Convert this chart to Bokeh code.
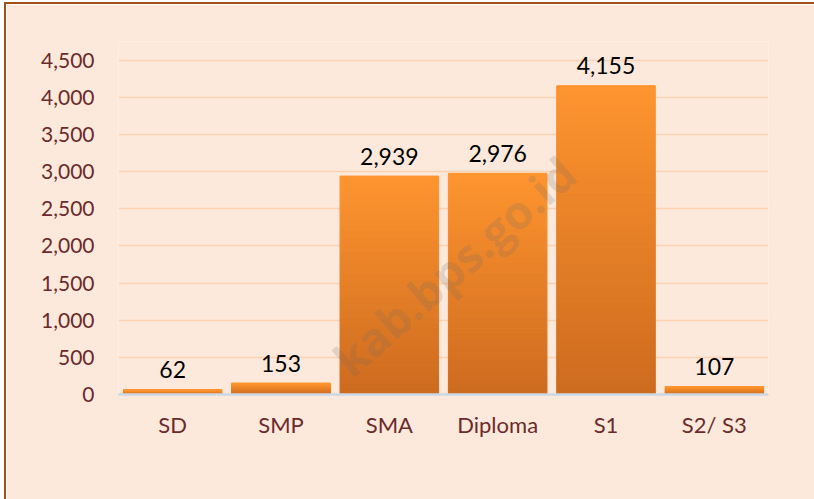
from bokeh.plotting import figure
from bokeh.models import FixedTicker, NumeralTickFormatter, Label, ColumnDataSource
from bokeh.embed import file_html
from bokeh.resources import INLINE
from bokeh.core.properties import value

categories = ["SD", "SMP", "SMA", "Diploma", "S1", "S2/ S3"]
values = [62, 153, 2939, 2976, 4155, 107]
y_ticks = [0, 500, 1000, 1500, 2000, 2500, 3000, 3500, 4000, 4500]
labels = ["62", "153", "2,939", "2,976", "4,155", "107"]

BG = "#FDE9DB"
FONT = "Lato"

p = figure(x_range=categories, y_range=(0, 4750), width=810, height=497,
           output_backend="svg", toolbar_location=None,
           min_border_left=112, min_border_right=48, min_border_top=37, min_border_bottom=107)
p.background_fill_color = BG
p.border_fill_color = BG
p.outline_line_color = None
p.styles = {"border-left": "2px solid #A3511B", "border-top": "2px solid #A3511B",
            "margin-left": "4px", "margin-top": "2px"}

# gradient bars: stacked slices from dark (bottom) to light (top)
N = 40
top_rgb = (255, 149, 48)
bot_rgb = (205, 107, 31)
xs, bots, tops, cols = [], [], [], []
for c, v in zip(categories, values):
    for i in range(N):
        f = (i + 0.5) / N
        r = int(bot_rgb[0] + (top_rgb[0] - bot_rgb[0]) * f)
        g = int(bot_rgb[1] + (top_rgb[1] - bot_rgb[1]) * f)
        b = int(bot_rgb[2] + (top_rgb[2] - bot_rgb[2]) * f)
        xs.append(c)
        bots.append(v * i / N)
        tops.append(v * (i + 1) / N)
        cols.append("#%02x%02x%02x" % (r, g, b))
src = ColumnDataSource(dict(x=xs, bottom=bots, top=tops, color=cols))
p.vbar(x="x", bottom="bottom", top="top", width=0.91, fill_color="color",
       line_color="color", line_width=1, source=src)

lab_src = ColumnDataSource(dict(x=categories, y=values, t=labels))
p.text(x="x", y="y", text="t", source=lab_src, text_align="center",
       text_baseline="alphabetic", y_offset=-20, text_font=value(FONT),
       text_font_size="23px", text_color="#000000")

p.yaxis.ticker = FixedTicker(ticks=y_ticks)
p.yaxis.formatter = NumeralTickFormatter(format="0,0")
p.yaxis.axis_line_color = None
p.yaxis.major_tick_line_color = None
p.yaxis.minor_tick_line_color = None
p.yaxis.major_label_standoff = 18
p.yaxis.major_label_text_font = FONT
p.yaxis.major_label_text_font_size = "21px"
p.yaxis.major_label_text_color = "#6B2B2B"

p.xaxis.axis_line_color = "#C9D9E8"
p.xaxis.axis_line_width = 2.5
p.xaxis.major_tick_line_color = None
p.xaxis.minor_tick_line_color = None
p.xaxis.major_label_standoff = 10
p.xaxis.major_label_text_font = FONT
p.xaxis.major_label_text_font_size = "22px"
p.xaxis.major_label_text_color = "#6B2B2B"

p.xgrid.grid_line_color = None
p.ygrid.ticker = FixedTicker(ticks=y_ticks)
p.ygrid.grid_line_color = "#FBD3B4"
p.ygrid.grid_line_width = 1.5

# faint watermark (kept inside the plot area)
wm_text = "kab.bps.go.id"
wm = Label(x=4.15, y=3080, text=wm_text, angle=0.72, text_align="right",
           text_baseline="alphabetic", text_font="Open Sans", text_font_style="bold",
           text_font_size="46px", text_color="#6A6A6A", text_alpha=0.2)
p.add_layout(wm)

open("out.html", "w").write(file_html(p, INLINE))
